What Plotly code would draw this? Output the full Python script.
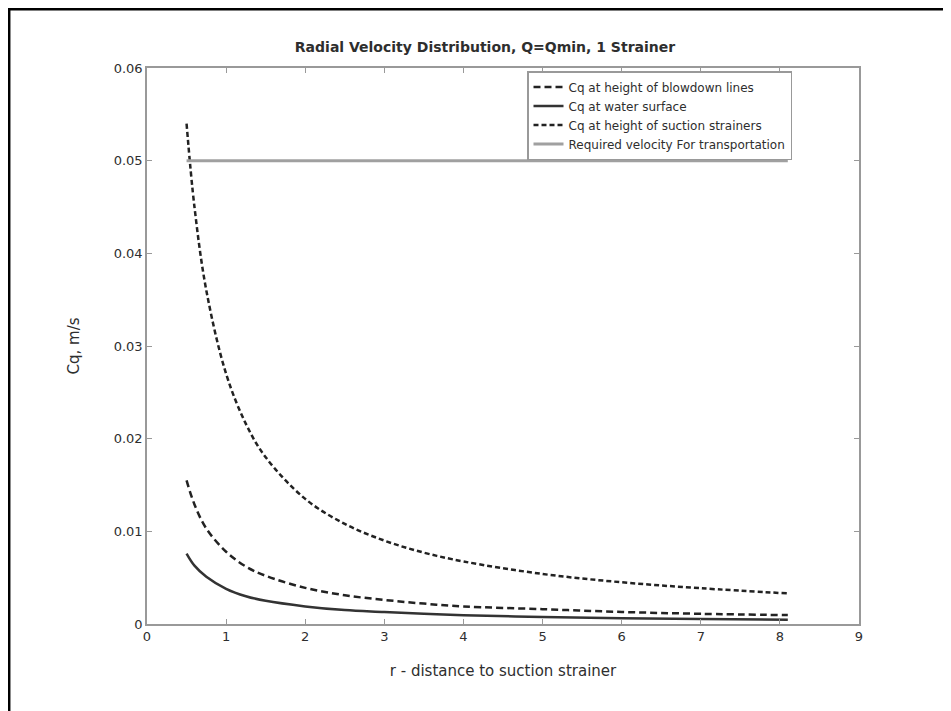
import plotly.graph_objects as go

# ---- data ----
r = [0.5, 0.6, 0.75, 1.0, 1.25, 1.5, 2.0, 2.5, 3.0, 3.5, 4.0, 5.0, 6.0, 7.0, 8.1]
cq_suction = [0.054, 0.045, 0.036, 0.027, 0.0216, 0.018, 0.0135, 0.0108, 0.009,
              0.0077, 0.00675, 0.0054, 0.0045, 0.00386, 0.0033]
cq_blowdown = [0.0155, 0.0129, 0.0103, 0.0078, 0.0062, 0.0052, 0.0039, 0.0031, 0.0026,
               0.0022, 0.0019, 0.0016, 0.0013, 0.0011, 0.00096]
cq_surface = [0.0076, 0.0063, 0.0051, 0.0038, 0.0030, 0.0025, 0.0019, 0.0015, 0.0013,
              0.0011, 0.00095, 0.00076, 0.00063, 0.00054, 0.00047]
r_req = [0.5, 8.1]
v_req = [0.05, 0.05]

x_ticks = [0, 1, 2, 3, 4, 5, 6, 7, 8, 9]
y_ticks = [0, 0.01, 0.02, 0.03, 0.04, 0.05, 0.06]
y_ticktext = ["0", "0.01", "0.02", "0.03", "0.04", "0.05", "0.06"]

title_text = "Radial Velocity Distribution, Q=Qmin, 1 Strainer"
x_title = "r - distance to suction strainer"
y_title = "Cq, m/s"

FONT = "DejaVu Sans, Verdana, sans-serif"
TXT = "#2e2e2e"
# page body adds an 8px offset, so figure coords = screen coords - 8
W, H = 943, 703
L, R, T, B = 139, 851, 60, 616

fig = go.Figure()
fig.add_trace(go.Scatter(x=r, y=cq_blowdown, mode="lines", line_shape="spline",
                         name="Cq at height of blowdown lines",
                         line=dict(color="#222222", width=2.5, dash="7px,4px")))
fig.add_trace(go.Scatter(x=r, y=cq_surface, mode="lines", line_shape="spline",
                         name="Cq at water surface",
                         line=dict(color="#333333", width=2.5)))
fig.add_trace(go.Scatter(x=r, y=cq_suction, mode="lines", line_shape="spline",
                         name="Cq at height of suction strainers",
                         line=dict(color="#222222", width=2.5, dash="5px,3px")))
fig.add_trace(go.Scatter(x=r_req, y=v_req, mode="lines",
                         name="Required velocity For transportation",
                         line=dict(color="#a0a0a0", width=3)))

axis_common = dict(showline=True, linecolor="#999999", linewidth=1.5, mirror="ticks",
                   ticks="inside", ticklen=5, tickcolor="#999999", tickwidth=1,
                   showgrid=False, zeroline=False,
                   tickfont=dict(family=FONT, size=13, color=TXT))

fig.update_layout(
    width=W, height=H,
    margin=dict(l=L, r=W - R, t=T, b=H - B, autoexpand=False),
    paper_bgcolor="white", plot_bgcolor="white",
    font=dict(family=FONT, size=13, color=TXT),
    title=dict(text="<b>" + title_text + "</b>", x=(477 - L) / (R - L), xref="paper",
               xanchor="center", y=1 - 39 / H, yanchor="middle",
               font=dict(family=FONT, size=14, color=TXT)),
    xaxis=dict(range=[0, 9], tickvals=x_ticks, **axis_common,
               title=dict(text=x_title, standoff=22,
                          font=dict(family=FONT, size=15, color=TXT))),
    yaxis=dict(range=[0, 0.06], tickvals=y_ticks, ticktext=y_ticktext, **axis_common,
               title=dict(text=y_title, standoff=30,
                          font=dict(family=FONT, size=15, color=TXT))),
    showlegend=True,
    legend=dict(x=(519 - L) / (R - L), y=(B - 63) / (B - T), xanchor="left", yanchor="top",
                bgcolor="white", bordercolor="#999999", borderwidth=1.5,
                font=dict(family=FONT, size=12, color=TXT),
                tracegroupgap=0, itemwidth=30),
)

# outer frame (top and left edges visible in the reference)
px_x = lambda p: (p - L) / (R - L)
px_y = lambda p: (B - p) / (B - T)
fig.add_shape(type="line", xref="paper", yref="paper",
              x0=px_x(0), x1=px_x(W + 10), y0=px_y(1.2), y1=px_y(1.2),
              line=dict(color="black", width=2.5))
fig.add_shape(type="line", xref="paper", yref="paper",
              x0=px_x(1.2), x1=px_x(1.2), y0=px_y(0), y1=px_y(H + 10),
              line=dict(color="black", width=2.5))

fig.write_html("out.html")
